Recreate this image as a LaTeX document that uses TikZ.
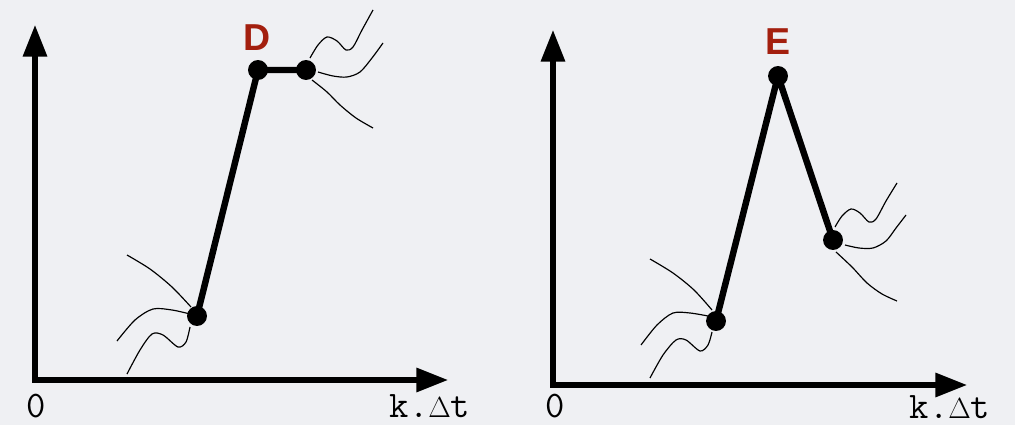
\documentclass[tikz,border=0pt]{standalone}
\usepackage{fontspec}
\setmainfont{Liberation Sans}
\usetikzlibrary{arrows.meta}
\definecolor{labred}{HTML}{A31F0E}
\definecolor{pale}{RGB}{239,240,243}

\begin{document}
\begin{tikzpicture}[
 x=0.03cm,y=-0.03cm,
 axis/.style={line width=4.3pt,{Triangle[length=27pt,width=20pt]}-{Triangle[length=27pt,width=20pt]}},
 seg/.style={line width=5.5pt,line cap=round,line join=round},
 pt/.style={circle,fill=black,inner sep=0pt,minimum size=17pt},
 wave/.style={line width=1pt},
 lbl/.style={font=\bfseries\fontsize{32}{32}\selectfont,text=labred},
 tick/.style={font=\ttfamily\fontsize{32}{32}\selectfont,inner sep=0pt}
]
\fill[pale] (0,0) rectangle (1015,425);
\useasboundingbox (0,0) rectangle (1015,425);
% left panel
\coordinate (o1) at (35,380);
\draw[axis] (35,25) |- (448,380);
\node[tick] (zero1) at (36,406) {0};
\node[tick] (time1) at (430,406) {k.$\Delta$t};
\node[pt] (p1) at (197,316) {};
\node[pt] (d1) at (258,70) {};
\node[pt] (d2) at (306,70) {};
\node[lbl] (dlab) at (257,38) {D};
\draw[seg] (p1.center)--(d1.center)--(d2.center);
\draw[wave] plot[smooth] coordinates {(127,255) (150,269) (172,287) (191,307)};
\draw[wave] plot[smooth] coordinates {(117,341) (135,320) (153,309) (172,310) (190,314)};
\draw[wave] plot[smooth] coordinates {(127,374) (140,350) (152,334) (163,335) (178,347) (186,342) (190,327)};
\draw[wave] plot[smooth] coordinates {(310,58) (318,45) (327,37) (337,41) (346,50) (353,47) (362,30) (373,10)};
\draw[wave] plot[smooth] coordinates {(318,72) (333,76) (347,77) (360,72) (372,58) (383,43)};
\draw[wave] plot[smooth] coordinates {(312,80) (327,92) (340,105) (356,118) (373,128)};
% right panel
\coordinate (o2) at (553,385);
\draw[axis] (553,30) |- (967,385);
\node[tick] (zero2) at (555,406) {0};
\node[tick] (time2) at (950,407) {k.$\Delta$t};
\node[pt] (e1) at (716,321) {};
\node[pt] (e2) at (778,76) {};
\node[pt] (e3) at (833,240) {};
\node[lbl] (elab) at (778,42) {E};
\draw[seg] (e1.center)--(e2.center)--(e3.center);
\draw[wave] plot[smooth] coordinates {(650,259) (673,273) (694,290) (712,310)};
\draw[wave] plot[smooth] coordinates {(641,345) (657,325) (673,313) (690,313) (708,316)};
\draw[wave] plot[smooth] coordinates {(650,378) (663,355) (676,340) (686,340) (700,351) (708,345) (712,332)};
\draw[wave] plot[smooth] coordinates {(835,227) (842,216) (851,209) (860,213) (869,222) (876,219) (886,201) (897,183)};
\draw[wave] plot[smooth] coordinates {(845,245) (859,248) (873,248) (886,241) (896,228) (906,215)};
\draw[wave] plot[smooth] coordinates {(836,252) (852,267) (867,283) (882,294) (897,301)};
\end{tikzpicture}
\end{document}
